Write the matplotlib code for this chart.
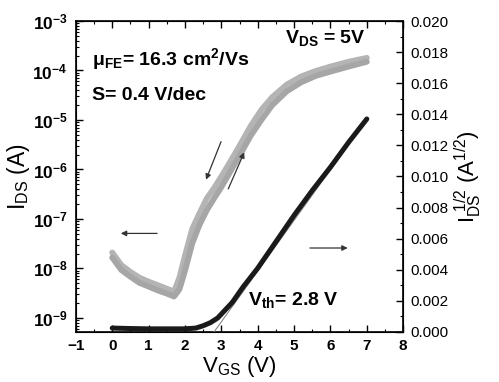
import matplotlib
matplotlib.use("Agg")
import matplotlib.pyplot as plt
from matplotlib.ticker import FormatStrFormatter, LogLocator, NullFormatter
import numpy as np

plt.rcParams["font.family"] = ["Liberation Sans", "DejaVu Sans"]
plt.rcParams["font.weight"] = "bold"
plt.rcParams["mathtext.fontset"] = "custom"
plt.rcParams["mathtext.default"] = "regular"

# transfer curve, log scale (A) - forward and reverse sweeps
vgs_log = [0.0, 0.25, 0.5, 0.75, 1.0, 1.25, 1.5, 1.7, 1.85, 2.0, 2.2, 2.4, 2.6,
           2.8, 3.0, 3.2, 3.5, 3.8, 4.1, 4.4, 4.8, 5.2, 5.6, 6.0, 6.5, 7.0]
ids_fwd = [1.66e-8, 9.3e-9, 6.8e-9, 5.1e-9, 4.3e-9, 3.6e-9, 3.1e-9, 2.7e-9, 3.8e-9,
           8.9e-9, 3.2e-8, 7.6e-8, 1.5e-7, 2.6e-7, 4.4e-7, 7.9e-7, 1.9e-6, 4.7e-6,
           1.0e-5, 2.0e-5, 3.8e-5, 5.8e-5, 7.8e-5, 9.5e-5, 1.2e-4, 1.5e-4]
ids_rev = [2.1e-8, 1.17e-8, 8.5e-9, 6.5e-9, 5.4e-9, 4.6e-9, 3.9e-9, 3.4e-9, 6.6e-9,
           1.8e-8, 6.3e-8, 1.3e-7, 2.6e-7, 4.2e-7, 7.2e-7, 1.26e-6, 3.0e-6, 7.4e-6,
           1.6e-5, 2.9e-5, 5.2e-5, 7.6e-5, 9.8e-5, 1.2e-4, 1.5e-4, 1.8e-4]

# sqrt(I_DS) curve (A^1/2)
vgs_sqrt = [0.0, 0.5, 1.0, 1.5, 2.0, 2.3, 2.5, 2.7, 2.9, 3.1, 3.3, 3.6, 4.0, 4.5,
            5.0, 5.5, 6.0, 6.5, 7.0]
sqrt_ids = [0.00025, 0.00022, 0.0002, 0.0002, 0.0002, 0.00025, 0.0004, 0.0006,
            0.0009, 0.0014, 0.0019, 0.0029, 0.0041, 0.0058, 0.0075, 0.0091,
            0.0106, 0.0122, 0.0137]

# linear fit giving V_th
fit_v = [2.8, 7.0]
fit_s = [0.0, 0.0137]

fig = plt.figure(figsize=(4.99, 3.82), dpi=100)
ax = fig.add_axes([0.152, 0.131, 0.656, 0.814])
ax2 = ax.twinx()

ax.plot(vgs_log, ids_rev, color="#b4b4b4", lw=4.2, solid_capstyle="round")
ax.plot(vgs_log, ids_fwd, color="#a6a6a6", lw=4.2, solid_capstyle="round")
ax2.plot(fit_v, fit_s, color="#888888", lw=0.8)
ax2.plot(vgs_sqrt, sqrt_ids, color="#1a1a1a", lw=3.6, solid_capstyle="round")

ax.set_yscale("log")
ax.set_xlim(-1, 8)
ax.set_ylim(5.2e-10, 1e-3)
ax.set_xticks(range(-1, 9))
ax.set_xticks(np.arange(-0.5, 8, 1.0), minor=True)
ax.set_yticks([1e-9, 1e-8, 1e-7, 1e-6, 1e-5, 1e-4, 1e-3])
ax.yaxis.set_minor_locator(LogLocator(base=10, subs=np.arange(2, 10), numticks=100))
ax.yaxis.set_minor_formatter(NullFormatter())
ax2.set_ylim(0, 0.02)
ax2.set_yticks(np.arange(0, 0.0201, 0.002))
ax2.set_yticks(np.arange(0.001, 0.02, 0.002), minor=True)
ax2.yaxis.set_major_formatter(FormatStrFormatter("%.3f"))

ax.tick_params(which="both", direction="in", top=True, labelsize=11, pad=5)
ax.tick_params(which="major", length=5, width=1)
ax.tick_params(which="minor", length=2.5, width=0.8)
ax.tick_params(axis="y", labelsize=12.5, pad=6)
ax2.tick_params(which="both", direction="in", labelsize=11, pad=5)
ax2.tick_params(which="major", length=5, width=1)
ax2.tick_params(which="minor", length=2.5, width=0.8)
for lab in ax2.get_yticklabels():
    lab.set_fontweight("normal")
for sp in ax.spines.values():
    sp.set_linewidth(1.2)

ax.set_xlabel("V$_{GS}$ (V)", fontsize=16, fontweight="normal", labelpad=1)
ax.set_ylabel("I$_{DS}$ (A)", fontsize=16.5, fontweight="normal", labelpad=0)
ax2.set_ylabel("I$_{DS}^{\\ 1/2}$ (A$^{1/2}$)", fontsize=16, fontweight="normal",
               labelpad=3)

ax.text(0.049, 0.859, "\u03bc$_{FE}$= 16.3 cm$^{2}$/Vs", transform=ax.transAxes,
        fontsize=14, fontweight="bold", va="baseline")
ax.text(0.049, 0.746, "S= 0.4 V/dec", transform=ax.transAxes,
        fontsize=14, fontweight="bold", va="baseline")
ax.text(0.639, 0.929, "V$_{DS}$ = 5V", transform=ax.transAxes,
        fontsize=14, fontweight="bold", va="baseline")
ax.text(0.525, 0.087, "V$_{th}$= 2.8 V", transform=ax.transAxes,
        fontsize=14, fontweight="bold", va="baseline")

arrow = dict(arrowstyle="-|>", color="#333333", lw=0.9, mutation_scale=8)
ax.annotate("", xy=(0.16, 5.1e-8), xytext=(1.31, 5.1e-8), arrowprops=arrow)
ax.annotate("", xy=(2.55, 5.5e-7), xytext=(3.02, 4.1e-6), arrowprops=arrow)
ax.annotate("", xy=(3.66, 2.5e-6), xytext=(3.16, 3.6e-7), arrowprops=arrow)
ax2.annotate("", xy=(6.55, 0.0054), xytext=(5.36, 0.0054), arrowprops=arrow)

fig.savefig("out.png", dpi=100)
